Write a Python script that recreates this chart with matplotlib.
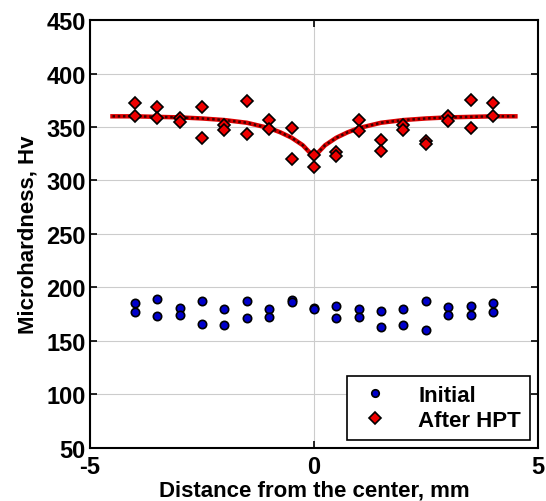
import matplotlib
matplotlib.use("Agg")
import matplotlib.pyplot as plt

plt.rcParams['font.family'] = ['Liberation Sans', 'DejaVu Sans']
plt.rcParams['axes.unicode_minus'] = False

# positions across the sample, mm
x_pos = [-4, -3.5, -3, -2.5, -2, -1.5, -1, -0.5, 0, 0.5, 1, 1.5, 2, 2.5, 3, 3.5, 4]

# two measurements per position
initial_a = [185, 189, 181, 187, 180, 187, 180, 188, 181, 183, 180, 178, 180, 187, 182, 183, 185]
initial_b = [177, 173, 174, 166, 165, 171, 172, 186, 180, 171, 172, 163, 165, 160, 174, 174, 177]

hpt_a = [372, 369, 358, 369, 352, 374, 357, 349, 324, 327, 357, 338, 352, 337, 360, 375, 372]
hpt_b = [360, 358, 355, 340, 347, 343, 348, 320, 313, 323, 346, 328, 347, 334, 356, 349, 360]

# fitted curve
fit_x = [-4.5, -4, -3.5, -3, -2.5, -2, -1.5, -1, -0.75, -0.5, -0.25, 0,
         0.25, 0.5, 0.75, 1, 1.5, 2, 2.5, 3, 3.5, 4, 4.5]
fit_y = [360, 360, 359.5, 359, 358, 356.5, 354, 349, 345, 340, 333, 322,
         333, 340, 345, 349, 354, 356.5, 358, 359, 359.5, 360, 360]

fig = plt.figure(figsize=(5.46, 5.02), dpi=100)
ax = fig.add_axes([0.165, 0.106, 0.820, 0.852])

ax.plot(fit_x, fit_y, color='#dd0000', lw=3.2, zorder=2)
ax.plot(fit_x, fit_y, color='#400000', lw=1.8, linestyle=(0, (1, 1.1)), zorder=2)

ax.plot(x_pos + x_pos, initial_a + initial_b, linestyle='none', marker='o', ms=6,
        mfc='#0000cc', mec='black', mew=1.2, label='Initial', zorder=3)
ax.plot(x_pos + x_pos, hpt_a + hpt_b, linestyle='none', marker='D', ms=6.5,
        mfc='#ee0000', mec='black', mew=1.2, label='After HPT', zorder=3)

ax.set_xlim(-5, 5)
ax.set_ylim(50, 450)
ax.set_xticks([-5, 0, 5])
ax.set_yticks(range(50, 451, 50))
ax.grid(True, color='#cccccc', lw=0.8)
ax.set_axisbelow(True)
ax.tick_params(direction='in', top=True, right=True, labelsize=17, length=5, width=1.2)
ax.tick_params(axis='x', pad=5)
ax.tick_params(axis='y', pad=3)
for lab in ax.get_xticklabels() + ax.get_yticklabels():
    lab.set_fontweight('bold')
for s in ax.spines.values():
    s.set_linewidth(1.5)

ax.set_xlabel('Distance from the center, mm', fontsize=16, fontweight='bold', labelpad=1)
ax.set_ylabel('Microhardness, Hv', fontsize=16, fontweight='bold', labelpad=6)

leg = ax.legend(loc='lower right', prop={'weight': 'bold', 'size': 16}, fancybox=False,
                edgecolor='black', framealpha=1, handletextpad=1.1, borderaxespad=0.35,
                handlelength=1.7, labelspacing=0.2, borderpad=0.4, markerscale=0.9)
leg.get_frame().set_linewidth(1.2)

fig.savefig('out.png', dpi=100)
